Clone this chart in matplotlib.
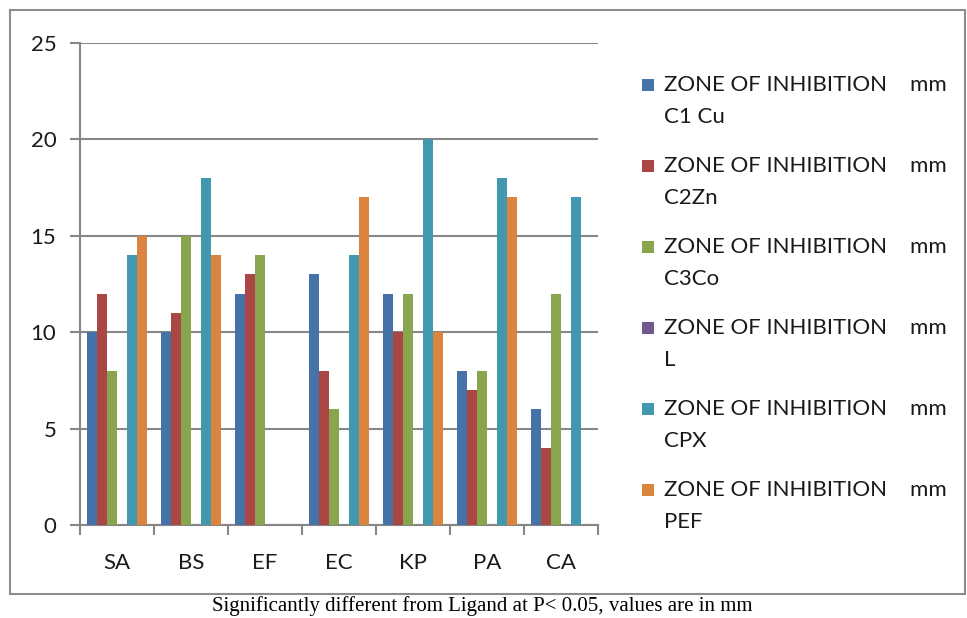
import matplotlib
matplotlib.use("Agg")
import matplotlib.pyplot as plt
from matplotlib.patches import Rectangle
import numpy as np

categories = ["SA", "BS", "EF", "EC", "KP", "PA", "CA"]
series_names = [
    "ZONE OF INHIBITION    mm\nC1 Cu",
    "ZONE OF INHIBITION    mm\nC2Zn",
    "ZONE OF INHIBITION    mm\nC3Co",
    "ZONE OF INHIBITION    mm\nL",
    "ZONE OF INHIBITION    mm\nCPX",
    "ZONE OF INHIBITION    mm\nPEF",
]
c1_cu = [10, 10, 12, 13, 12, 8, 6]
c2_zn = [12, 11, 13, 8, 10, 7, 4]
c3_co = [8, 15, 14, 6, 12, 8, 12]
ligand = [0, 0, 0, 0, 0, 0, 0]
cpx = [14, 18, 0, 14, 20, 18, 17]
pef = [15, 14, 0, 17, 10, 17, 0]
series_values = [c1_cu, c2_zn, c3_co, ligand, cpx, pef]
colors = ["#4572A7", "#AA4643", "#89A54E", "#71588F", "#4198AF", "#DB843D"]
y_ticks = [0, 5, 10, 15, 20, 25]
caption = "Significantly different from Ligand at P< 0.05, values are in mm"

W, H = 967, 618
fig = plt.figure(figsize=(W / 100, H / 100), dpi=100)
fig.patch.set_facecolor("white")

# outer chart border
fig.patches.append(Rectangle((10 / W, 1 - 594 / H), 955 / W, 584 / H,
                             transform=fig.transFigure, fill=False,
                             edgecolor="#8c8c8c", linewidth=1.5))

ax = fig.add_axes([80 / W, 1 - 525 / H, 518 / W, (525 - 43) / H])
n_series = len(series_values)
bw = 1 / (n_series + 1.5)
x = np.arange(len(categories))
for j, (vals, col) in enumerate(zip(series_values, colors)):
    ax.bar(x + (j - (n_series - 1) / 2) * bw, vals, width=bw, color=col,
           zorder=3, linewidth=0)

ax.set_xlim(-0.5, len(categories) - 0.5)
ax.set_ylim(0, 25)
ax.set_yticks(y_ticks)
ax.set_yticklabels([str(t) for t in y_ticks], fontfamily="Lato", fontsize=16,
                   color="#1a1a1a")
ax.set_xticks(x)
ax.set_xticklabels(categories, fontfamily="Lato", fontsize=16, color="#1a1a1a")
ax.set_xticks(np.arange(len(categories) + 1) - 0.5, minor=True)
ax.tick_params(axis="x", which="major", length=0, pad=20)
ax.tick_params(axis="x", which="minor", length=7, width=1.5, color="#868686")
ax.tick_params(axis="y", length=7, width=1.5, color="#868686", pad=10)
ax.grid(axis="y", color="#868686", linewidth=1.5, zorder=0)
for s in ["top", "right"]:
    ax.spines[s].set_visible(False)
for s in ["left", "bottom"]:
    ax.spines[s].set_color("#868686")
    ax.spines[s].set_linewidth(1.5)
ax.set_axisbelow(True)

# legend
for j, (name, col) in enumerate(zip(series_names, colors)):
    yc = 85 + j * 81
    fig.patches.append(Rectangle((642 / W, 1 - (yc + 6) / H), 12 / W, 12 / H,
                                 transform=fig.transFigure, facecolor=col,
                                 edgecolor="none"))
    first, second = name.split("\n")
    fig.text(664 / W, 1 - yc / H, first, fontfamily="Lato", fontsize=16,
             va="center", ha="left", color="#1a1a1a")
    fig.text(664 / W, 1 - (yc + 32) / H, second, fontfamily="Lato", fontsize=16,
             va="center", ha="left", color="#1a1a1a")

fig.text(482 / W, 1 - 606 / H, caption, fontfamily="Liberation Serif",
         fontsize=15, ha="center", va="center", color="black")

fig.savefig("out.png", dpi=100)
